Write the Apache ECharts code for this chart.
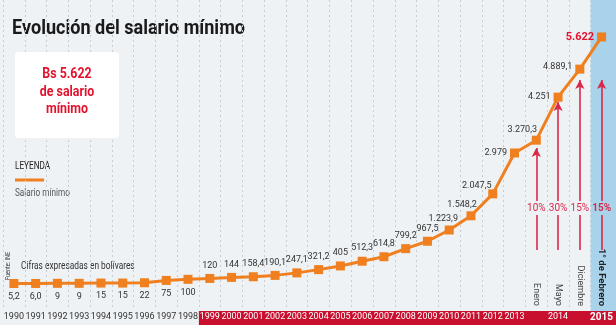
<!DOCTYPE html>
<html><head><meta charset="utf-8">
<script src="https://cdn.jsdelivr.net/npm/echarts@6/dist/echarts.min.js"></script>
<style>html,body{margin:0;padding:0;background:#eef2f5}#c{width:616px;height:325px}</style>
</head><body><div id="c"></div>
<script>
// ---- data ----
const categories = ['1990','1991','1992','1993','1994','1995','1996','1997','1998','1999','2000','2001','2002','2003','2004','2005','2006','2007','2008','2009','2010','2011','2012','2013','Enero','Mayo','Diciembre','1° de Febrero'];
const salary = [5.2,6.0,9,9,15,15,22,75,100,120,144,158.4,190.1,247.1,321.2,405,512.3,614.8,799.2,967.5,1223.9,1548.2,2047.5,2979,3270.3,4251,4889.1,5622];
const salaryText = ['5,2','6,0','9','9','15','15','22','75','100','120','144','158,4','190,1','247,1','321,2','405','512,3','614,8','799,2','967,5','1.223,9','1.548,2','2.047,5','2.979','3.270,3','4.251','4.889,1','5.622'];
const yearLabels = ['1990','1991','1992','1993','1994','1995','1996','1997','1998','1999','2000','2001','2002','2003','2004','2005','2006','2007','2008','2009','2010','2011','2012','2013','','2014','','2015'];
const monthLabels = ['Enero','Mayo','Diciembre','1° de Febrero'];
const raiseCats = ['Enero','Mayo','Diciembre','1° de Febrero'];
const raisePct = ['10%','30%','15%','15%'];
const arrowTip = [3092,4140,4641,4641];
const arrowBase = 768, arrowGapLow = 1565, arrowGapHigh = 1885, pctLevel = 1725;

const FONT = "Roboto,'Liberation Sans',sans-serif";
const RED = '#c8102e', ORANGE = '#f07f1f', ARROW = '#d9294a';

function labelStyle(i){
  const base = {show:true, fontFamily:FONT, fontSize:9, color:'#333', formatter: salaryText[i]};
  if (i <= 8) return Object.assign(base,{position:'bottom', distance:4});
  if (i <= 19) return Object.assign(base,{position:'top', distance:4});
  const custom = {
    20:{position:'top', distance:2, offset:[-6,0]},
    21:{position:'top', distance:2, offset:[-9,0]},
    22:{position:'top', distance:1, offset:[-16,2]},
    23:{position:'left', distance:3},
    24:{position:'top', distance:1, offset:[-14,0]},
    25:{position:'left', distance:3},
    26:{position:'left', distance:3, offset:[0,-2]},
    27:{position:'left', distance:3, color:'#e3122d', fontWeight:'bold', fontSize:11}
  };
  return Object.assign(base, custom[i]);
}

const lineData = salary.map((v,i)=>({value:v, label:labelStyle(i)}));

const mlData = [];
raiseCats.forEach((c,i)=>{
  mlData.push([{coord:[c,arrowBase], symbol:'none'},{coord:[c,arrowGapLow], symbol:'none'}]);
  mlData.push([{coord:[c,arrowGapHigh], symbol:'none'},{coord:[c,arrowTip[i]], symbol:'arrow'}]);
});
const mpData = raiseCats.map((c,i)=>({coord:[c,pctLevel], value:raisePct[i],
  label:{fontWeight: i===3?'bold':'normal'}}));

const chart = echarts.init(document.getElementById('c'));
chart.setOption({
  backgroundColor:'#eef2f5',
  animation:false,
  grid:{left:3, right:0, top:0, bottom:17},
  xAxis:[
    {type:'category', data:categories, position:'bottom', z:5,
     axisLine:{show:false, onZero:false}, axisTick:{show:false}, splitLine:{show:false},
     axisLabel:{interval:0, margin:4, fontFamily:FONT, fontSize:9,
       color:(v,i)=> i<9 ? '#333' : '#fff',
       formatter:(v,i)=> i===27 ? '{b|'+yearLabels[i]+'}' : yearLabels[i],
       rich:{b:{fontWeight:'bold', color:'#fff', fontFamily:FONT, fontSize:10}}}},
    {type:'category', data:categories, position:'top', offset:-307, z:5,
     axisLine:{show:false, onZero:false}, axisTick:{show:false}, splitLine:{show:false},
     axisLabel:{interval:0, rotate:90, margin:1, fontFamily:FONT, fontSize:9, color:'#444',
       formatter:(v,i)=> { const k = i-24; if (k<0) return ''; return k===3 ? '{b|'+monthLabels[k]+'}' : monthLabels[k]; },
       rich:{b:{fontWeight:'bold', color:'#222', fontFamily:FONT, fontSize:9.5}}}},
    {type:'category', data:categories, position:'bottom', z:0,
     axisLine:{show:false, onZero:false}, axisTick:{show:false}, axisLabel:{show:false},
     splitLine:{show:true, interval:0, lineStyle:{color:'#c7ccd2', type:[2,3], width:1}}}
  ],
  yAxis:{type:'value', min:-553, max:6464, show:false, splitLine:{show:false}},
  series:[{
    type:'line', data:lineData, xAxisIndex:0, z:3,
    symbol:'rect', symbolSize:9, lineStyle:{color:ORANGE, width:3}, itemStyle:{color:ORANGE},
    markLine:{silent:true, symbol:['none','arrow'], symbolSize:[7,9], label:{show:false},
      lineStyle:{color:ARROW, width:1.6, type:'solid'}, data:mlData},
    markPoint:{silent:true, symbol:'circle', symbolSize:0, data:mpData,
      label:{show:true, position:'inside', formatter:'{c}', color:ARROW, fontFamily:FONT, fontSize:10}}
  }],
  graphic:[
    {type:'text', x:12, y:18, scaleX:0.86, style:{text:'Evolución del salario mínimo', fontFamily:FONT, fontSize:21, fontWeight:'bold', fill:'#1a1a1a'}},
    {type:'rect', shape:{x:15, y:52, width:104, height:86, r:4}, style:{fill:'#fff'}, z:1},
    {type:'text', x:67, y:92, scaleX:0.8, z:2, style:{text:'Bs 5.622\nde salario\nmínimo', align:'center', verticalAlign:'middle', fontFamily:FONT, fontSize:15.5, lineHeight:17.5, fontWeight:'bold', fill:'#e3122d'}},
    {type:'text', x:15, y:161, scaleX:0.82, style:{text:'LEYENDA', fontFamily:FONT, fontSize:10, fill:'#222'}},
    {type:'line', shape:{x1:15, y1:180, x2:44, y2:180}, style:{stroke:ORANGE, lineWidth:3}},
    {type:'text', x:15, y:188, scaleX:0.82, style:{text:'Salario mínimo', fontFamily:FONT, fontSize:10, fill:'#555'}},
    {type:'text', x:21, y:261, scaleX:0.76, style:{text:'Cifras expresadas en bolívares', fontFamily:FONT, fontSize:11, fill:'#333'}},
    {type:'text', x:5, y:280, rotation:Math.PI/2, scaleX:0.85, style:{text:'Fuente: INE', fontFamily:FONT, fontSize:6.5, fill:'#333'}}
  ]
});

// background bands positioned from the category axis
const c0 = chart.convertToPixel({xAxisIndex:0}, categories[0]);
const c1 = chart.convertToPixel({xAxisIndex:0}, categories[1]);
const half = (c1-c0)/2;
const xBand = chart.convertToPixel({xAxisIndex:0}, '1999') - half;
const xLast = chart.convertToPixel({xAxisIndex:0}, categories[categories.length-1]) - half;
const yBase = chart.convertToPixel({yAxisIndex:0}, -553);
chart.setOption({graphic:[
  {type:'rect', id:'blue', shape:{x:xLast, y:0, width:616-xLast, height:yBase+3}, style:{fill:'#a9d3ea'}, z:1},
  {type:'rect', id:'red', shape:{x:xBand, y:yBase+3, width:616-xBand, height:325-yBase-3}, style:{fill:RED}, z:1}
]});
</script></body></html>
